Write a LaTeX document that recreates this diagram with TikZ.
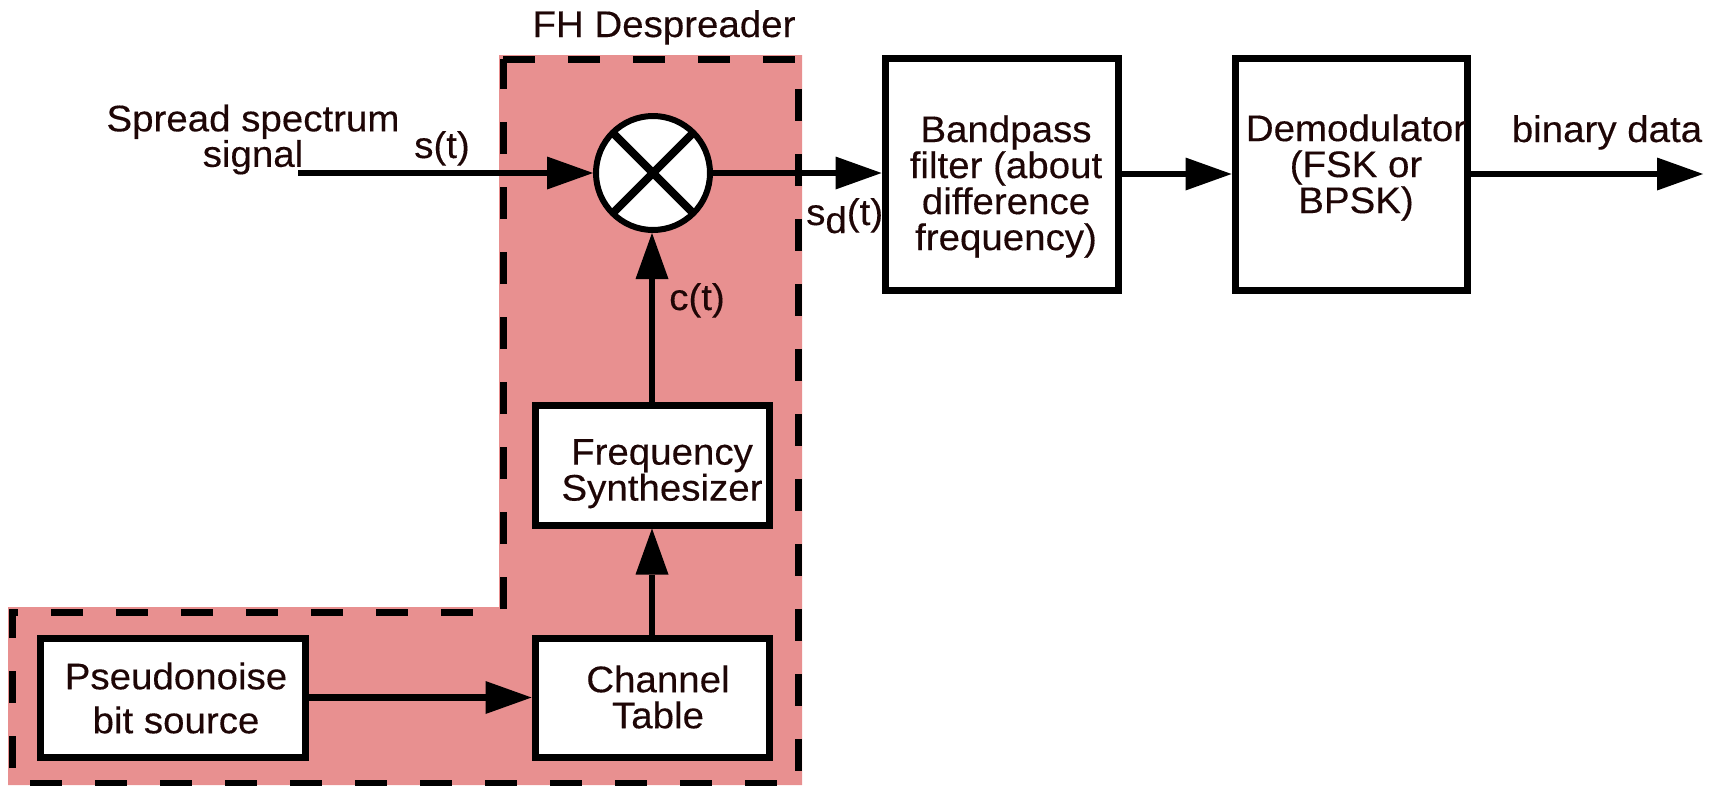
\documentclass[tikz,border=0pt]{standalone}
\usepackage{fontspec}
\setmainfont{Liberation Sans}[FakeStretch=1.04,FakeBold=0.3]
\usetikzlibrary{arrows.meta}
\definecolor{ink}{RGB}{30,6,6}
\definecolor{pinkfill}{RGB}{232,144,144}
\begin{document}
\begin{tikzpicture}[x=1pt,y=-1pt,
  txt/.style={font=\fontsize{37}{36}\selectfont, text=ink, inner sep=0pt, align=center},
  blk/.style={draw=black, line width=7pt, fill=white, inner sep=0pt},
  arr/.style={draw=black, line width=6.5pt, -{Triangle[length=46pt,width=33pt,line width=0pt]}},
  dashline/.style={draw=black, line width=7pt, dash pattern=on 32pt off 33pt},
  crossline/.style={draw=black, line width=8pt}]
\useasboundingbox (0,0) rectangle (1719,785);
% despreader region
\fill[pinkfill] (499,55) -- (802,55) -- (802,785) -- (8,785) -- (8,607) -- (499,607) -- cycle;
\draw[dashline] (503,59) -- (798,59) -- (798,783) -- (12,783) -- (12,612) -- (503,612) -- cycle;
\node[txt, anchor=base] (fhlabel) at (664,37) {FH Despreader};
% mixer
\node[blk, line width=6pt, circle, minimum size=114pt] (mix) at (653,173) {};
\draw[crossline] ([shift={(135:56)}]mix.center) -- ([shift={(-45:56)}]mix.center);
\draw[crossline] ([shift={(45:56)}]mix.center) -- ([shift={(-135:56)}]mix.center);
% blocks
\node[blk, minimum width=233pt, minimum height=232pt] (bpf) at (1001.5,174) {};
\node[txt] (bpft) at (1006,186.5) {Bandpass\\filter (about\\difference\\frequency)};
\node[blk, minimum width=232pt, minimum height=232pt] (dem) at (1351,174) {};
\node[txt] (demt) at (1356,167.5) {Demodulator\\(FSK or\\BPSK)};
\node[blk, minimum width=234pt, minimum height=120pt] (syn) at (652,465) {};
\node[txt] (synt) at (662,473.7) {Frequency\\Synthesizer};
\node[blk, minimum width=234pt, minimum height=119pt] (chan) at (652,697.5) {};
\node[txt] (chant) at (658,697) {Channel\\Table};
\node[blk, minimum width=265pt, minimum height=119pt] (pn) at (172.5,697.5) {};
\node[txt, font=\fontsize{37}{44}\selectfont] (pnt) at (176,698) {Pseudonoise\\bit source};
% labels
\node[txt, font=\fontsize{37}{34}\selectfont] (sslabel) at (253,139.5) {Spread spectrum\\signal};
\node[txt, anchor=base] (stlabel) at (442,158) {s(t)};
\node[txt, anchor=base] (ctlabel) at (697,310) {c(t)};
\node[txt, anchor=base west] (sdlabel) at (806,225) {s\raisebox{-8pt}{d}(t)};
\node[txt, anchor=base] (binlabel) at (1607,142) {binary data};
% connectors
\coordinate (insrc) at (298,173);
\coordinate (outend) at (1703,174);
\draw[arr] (insrc) -- (mix);
\draw[arr] (mix) -- (mix -| bpf.west);
\draw[arr] (bpf) -- (dem);
\draw[arr] (dem) -- (outend);
\draw[arr] (syn) -- (syn |- mix.south);
\draw[arr] (chan) -- (syn);
\draw[arr] (pn) -- (chan);
\end{tikzpicture}
\end{document}
